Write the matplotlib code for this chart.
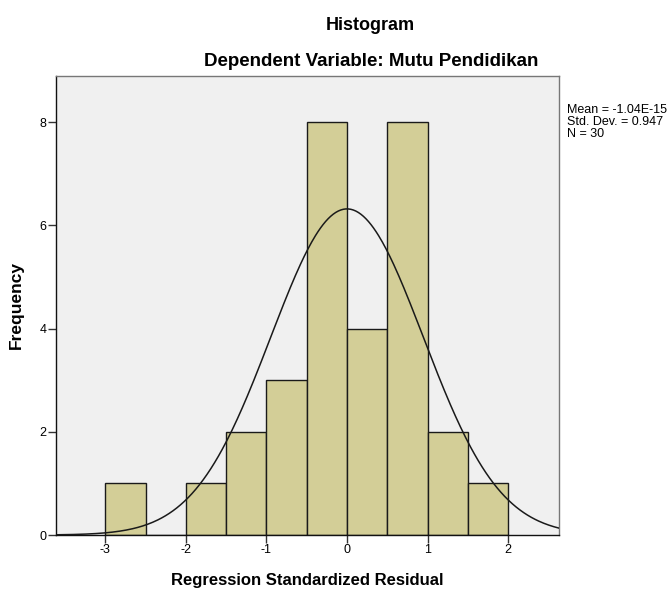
import numpy as np
import matplotlib
matplotlib.use("Agg")
import matplotlib.pyplot as plt

plt.rcParams['font.family'] = ['Liberation Sans', 'DejaVu Sans']
plt.rcParams['axes.unicode_minus'] = False

# data
bin_edges = [-3.0, -2.5, -2.0, -1.5, -1.0, -0.5, 0.0, 0.5, 1.0, 1.5, 2.0]
counts = [1, 0, 1, 2, 3, 8, 4, 8, 2, 1]
mean = -1.04e-15
std_dev = 0.947
n = 30
x_ticks = [-3, -2, -1, 0, 1, 2]
y_ticks = [0, 2, 4, 6, 8]

fig = plt.figure(figsize=(6.7, 5.9), dpi=100)
ax = fig.add_axes([0.0831, 0.0932, 0.7512, 0.7785])
ax.set_facecolor('#f0f0f0')

lefts = bin_edges[:-1]
widths = np.diff(bin_edges)
ax.bar(lefts, counts, width=widths, align='edge', color='#d3ce97',
       edgecolor='#1a1a1a', linewidth=1.0, zorder=2)

# normal curve
bw = widths[0]
xs = np.linspace(-3.615, 2.63, 400)
ys = n * bw * np.exp(-0.5 * ((xs - mean) / std_dev) ** 2) / (std_dev * np.sqrt(2 * np.pi))
ax.plot(xs, ys, color='#1a1a1a', linewidth=1.1, zorder=3)

ax.set_xlim(-3.615, 2.63)
ax.set_ylim(0, 8.9)
ax.set_xticks(x_ticks)
ax.set_yticks(y_ticks)
ax.tick_params(direction='out', length=5.5, width=1, labelsize=9, color='#333333', pad=1)
ax.spines['left'].set_color('#111111')
ax.spines['bottom'].set_color('#111111')
ax.spines['top'].set_color('#777777')
ax.spines['right'].set_color('#777777')
for s in ax.spines.values():
    s.set_linewidth(1.0)

ax.set_xlabel('Regression Standardized Residual', fontsize=12, fontweight='bold', labelpad=12)
ax.set_ylabel('Frequency', fontsize=12.5, fontweight='bold', labelpad=11)

fig.text(370 / 670, 1 - 26 / 590, 'Histogram', ha='center', va='center',
         fontsize=13, fontweight='bold')
fig.text(371 / 670, 1 - 61 / 590, 'Dependent Variable: Mutu Pendidikan', ha='center',
         va='center', fontsize=13.5, fontweight='bold')

fig.text(567 / 670, 1 - 104 / 590,
         'Mean = -1.04E-15\nStd. Dev. = 0.947\nN = 30',
         ha='left', va='top', fontsize=9, linespacing=1.0)

fig.savefig('out.png', dpi=100)
